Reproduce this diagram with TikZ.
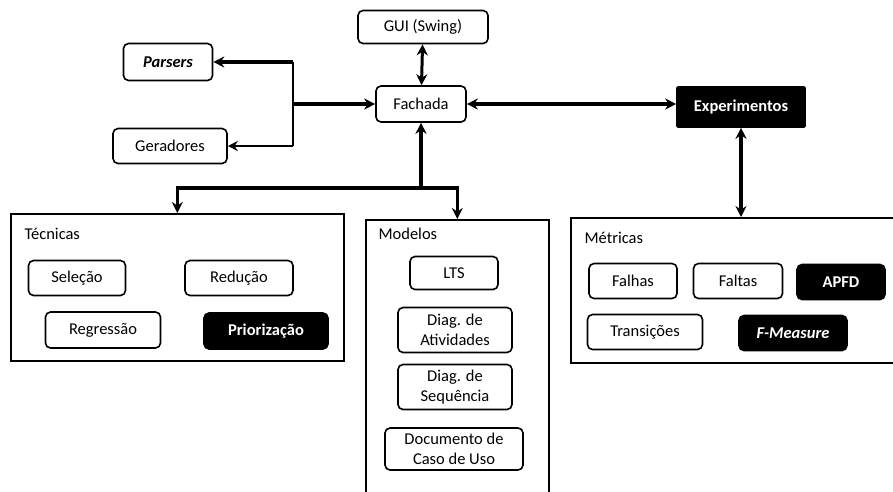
\documentclass[tikz,border=0pt]{standalone}
\usepackage{fontspec}
\setmainfont{Carlito}
\usetikzlibrary{arrows.meta}
\begin{document}
\begin{tikzpicture}[x=1pt,y=-1pt,
  txt/.style={font=\fontsize{16.5}{20.5}\selectfont},
  box/.style={txt, draw, rounded corners=5pt, line width=1.6pt, fill=white,
    align=center, inner sep=0pt},
  dark/.style={box, fill=black, text=white,
    font=\fontsize{16.5}{20.5}\selectfont\bfseries},
  panel/.style={draw, line width=1.6pt, inner sep=0pt, anchor=north west},
  heavy/.style={line width=3.6pt, -{Stealth[length=11pt,width=11pt]}},
  heavy2/.style={line width=3.6pt, {Stealth[length=11pt,width=11pt]}-{Stealth[length=11pt,width=11pt]}},
  light/.style={line width=2.2pt, -{Stealth[length=10pt,width=10pt]}},
]
\useasboundingbox (0,0) rectangle (893,491);

% top row
\node[box, minimum width=130pt, minimum height=33pt] (gui) at (423,27) {GUI (Swing)};
\node[box, minimum width=90pt, minimum height=36pt] (fachada) at (421,104) {Fachada};
\node[box, minimum width=89pt, minimum height=37pt] (parsers) at (168,62)
  {\bfseries\itshape Parsers};
\node[box, minimum width=114pt, minimum height=35pt] (geradores) at (170,146) {Geradores};
\node[dark, rounded corners=1pt, minimum width=128pt, minimum height=40pt] (exper) at (741,107) {Experimentos};

% panels
\node[panel, minimum width=333pt, minimum height=147pt] (tecnicas) at (10,213) {};
\node[panel, minimum width=183pt, minimum height=285pt] (modelos) at (365,219) {};
\node[panel, minimum width=335pt, minimum height=145pt] (metricas) at (570,217) {};

\node[txt, anchor=west] (ltec) at (21,234) {Técnicas};
\node[txt, anchor=west] (lmod) at (375,234) {Modelos};
\node[txt, anchor=west] (lmet) at (581,238) {Métricas};

% Técnicas
\node[box, minimum width=97pt, minimum height=35pt] (selecao) at (77,278) {Seleção};
\node[box, minimum width=108pt, minimum height=35pt] (reducao) at (239,278) {Redução};
\node[box, minimum width=115pt, minimum height=36pt] (regressao) at (103,330) {Regressão};
\node[dark, minimum width=124pt, minimum height=36pt] (priorizacao) at (266,331) {Priorização};

% Modelos
\node[box, minimum width=88pt, minimum height=33pt] (lts) at (454,273) {LTS};
\node[box, minimum width=114pt, minimum height=45pt] (ativ) at (455,330) {Diag. de\\Atividades};
\node[box, minimum width=114pt, minimum height=45pt] (seq) at (455,387) {Diag. de\\Sequência};
\node[box, minimum width=138pt, minimum height=42pt] (doc) at (454,449) {Documento de\\Caso de Uso};

% Métricas
\node[box, minimum width=88pt, minimum height=35pt] (falhas) at (633,281) {Falhas};
\node[box, minimum width=89pt, minimum height=35pt] (faltas) at (738,281) {Faltas};
\node[dark, minimum width=88pt, minimum height=35pt] (apfd) at (841,282) {APFD};
\node[box, minimum width=115pt, minimum height=35pt] (transicoes) at (645,332) {Transições};
\node[dark, minimum width=108pt, minimum height=35pt] (fmeasure) at (793,333)
  {\bfseries\itshape F-Measure};

% connectors
\coordinate (jl) at (293,104);
\coordinate (jlu) at (293,62);
\coordinate (jll) at (293,146);
\coordinate (jd) at (421,188);

\draw[heavy2, line width=3pt] (gui) -- (fachada);
\draw[heavy] (jl) -- (fachada);
\draw[line width=2.2pt] (jlu) -- (jll);
\draw[heavy] (jlu) -- (parsers);
\draw[light] (jll) -- (geradores);
\draw[heavy2] (fachada.east) -- (fachada.east -| exper.west);
\draw[heavy2] (exper.south) -- (exper.south |- metricas.north);
\draw[heavy] (jd) -- (fachada);
\draw[heavy] (jd) -| (tecnicas.north);
\draw[heavy] (jd) -| (modelos.north);
\end{tikzpicture}
\end{document}
